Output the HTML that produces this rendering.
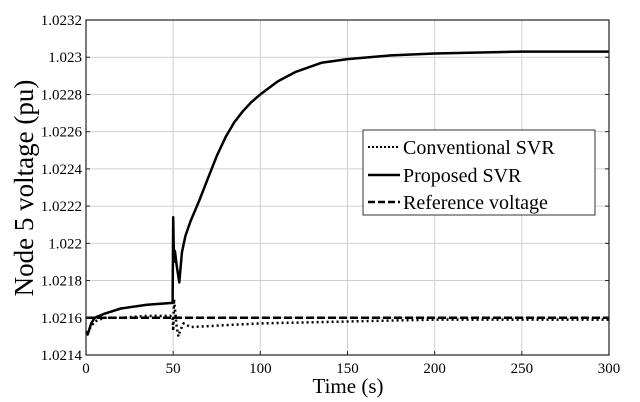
<!DOCTYPE html>
<html><head><meta charset="utf-8"><style>
html,body{margin:0;padding:0;background:#fff;}
svg{display:block;font-family:"Liberation Serif",serif;}
</style></head><body>
<svg id="chart" width="640" height="402" viewBox="0 0 640 402" xmlns="http://www.w3.org/2000/svg">
<g id="grid"></g>
<g id="series"></g>
<rect x="86" y="20" width="523" height="335" fill="none" stroke="#222" stroke-width="1.2"/>
<g id="ticks"></g>
<text x="348" y="393" font-size="21" text-anchor="middle">Time (s)</text>
<text transform="translate(33,188) rotate(-90)" font-size="27" text-anchor="middle">Node 5 voltage (pu)</text>
<g>
<rect x="363" y="130" width="232" height="85" fill="#fff" stroke="#333" stroke-width="1"/>
<g>
<line x1="368" y1="147" x2="400" y2="147" stroke="#000" stroke-width="2" stroke-dasharray="2,2"/>
<text x="403" y="154" font-size="20">Conventional SVR</text></g>
<g>
<line x1="368" y1="175" x2="400" y2="175" stroke="#000" stroke-width="2.5"/>
<text x="403" y="182" font-size="20">Proposed SVR</text></g>
<g>
<line x1="368" y1="202" x2="400" y2="202" stroke="#000" stroke-width="2.5" stroke-dasharray="7,3"/>
<text x="403" y="209" font-size="20">Reference voltage</text></g>
</g>
</svg>
<script>
const xTicks=[0,50,100,150,200,250,300];
const yTicks=[1.0214,1.0216,1.0218,1.022,1.0222,1.0224,1.0226,1.0228,1.023,1.0232];
const yTickLabels=["1.0214","1.0216","1.0218","1.022","1.0222","1.0224","1.0226","1.0228","1.023","1.0232"];
const propT=[0,1,3,5,10,20,35,49.7,50,50.5,51,52,53.5,55,57,60,65,70,75,80,85,90,95,100,110,120,135,150,175,200,250,300];
const propV=[1.02152,1.02151,1.02157,1.0216,1.02162,1.02165,1.02167,1.02168,1.02214,1.0219,1.02196,1.02188,1.02179,1.02195,1.02204,1.02212,1.02223,1.02235,1.02247,1.02257,1.02265,1.02271,1.02276,1.0228,1.02287,1.02292,1.02297,1.02299,1.02301,1.02302,1.02303,1.02303];
const convT=[0,2,5,8,10,20,35,49.7,50,50.5,51,52,53,54,56,58,60,80,100,150,200,300];
const convV=[1.02152,1.02154,1.02158,1.02159,1.0216,1.0216,1.02161,1.02161,1.02153,1.0217,1.02165,1.02155,1.0215,1.02153,1.02157,1.02156,1.02155,1.02156,1.02157,1.02158,1.02159,1.02159];
const refT=[0,300];
const refV=[1.0216,1.0216];
const NS="http://www.w3.org/2000/svg";
const X0=86,X1=609,Y0=355,Y1=20;
function sx(t){return X0+(t-0)/(300-0)*(X1-X0);}
function sy(v){return Y0-(v-1.0214)/(1.0232-1.0214)*(Y0-Y1);}
function mk(tag,attrs,parent){const e=document.createElementNS(NS,tag);for(const k in attrs)e.setAttribute(k,attrs[k]);parent.appendChild(e);return e;}
const grid=document.getElementById('grid'),ticks=document.getElementById('ticks'),ser=document.getElementById('series');
xTicks.forEach((t,i)=>{
 const g=mk('line',{x1:sx(t),x2:sx(t),y1:Y1,y2:Y0,stroke:'#d0d0d0','stroke-width':1},grid);
 
 
 const tk=mk('line',{x1:sx(t),x2:sx(t),y1:Y0,y2:Y0-4,stroke:'#222'},ticks);
 
 
 const tx=mk('text',{x:sx(t),y:373,'font-size':15,'text-anchor':'middle'},ticks);
 tx.textContent=String(t);
 
 
});
yTicks.forEach((v,i)=>{
 const g=mk('line',{x1:X0,x2:X1,y1:sy(v),y2:sy(v),stroke:'#d0d0d0','stroke-width':1},grid);
 
 
 const tk=mk('line',{x1:X0,x2:X0+4,y1:sy(v),y2:sy(v),stroke:'#222'},ticks);
 
 
 const tk2=mk('line',{x1:X1,x2:X1-4,y1:sy(v),y2:sy(v),stroke:'#222'},ticks);
 
 
 const tx=mk('text',{x:X0-4,y:sy(v)+5,'font-size':15,'text-anchor':'end'},ticks);
 tx.textContent=yTickLabels[i];
 
 
});
function pts(T,V){return T.map((t,i)=>sx(t).toFixed(1)+','+sy(V[i]).toFixed(1)).join(' ');}
const r=mk('polyline',{points:pts(refT,refV),fill:'none',stroke:'#000','stroke-width':2.5,'stroke-dasharray':'8,3'},ser);


const c=mk('polyline',{points:pts(convT,convV),fill:'none',stroke:'#000','stroke-width':2.5,'stroke-dasharray':'2,3'},ser);


const p=mk('polyline',{points:pts(propT,propV),fill:'none',stroke:'#000','stroke-width':2.5,'stroke-linejoin':'round'},ser);


</script>
</body></html>
